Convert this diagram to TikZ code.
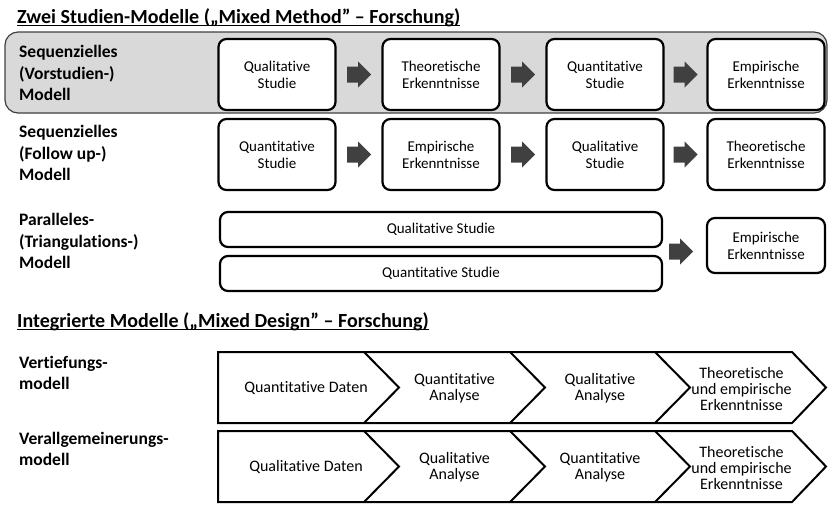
\documentclass[tikz,border=0pt]{standalone}
\usepackage{fontspec}
\setmainfont{Carlito}[Ligatures=NoCommon]
\usetikzlibrary{calc}
\definecolor{panelgray}{HTML}{D9D9D9}
\definecolor{arrowgray}{HTML}{404040}
\begin{document}
\begin{tikzpicture}[x=1pt,y=-1pt,
  box/.style={draw=black,line width=2.2pt,rounded corners=8pt,fill=white,
    minimum width=117pt,minimum height=71pt,align=center,inner sep=0pt,
    font=\fontsize{15}{17}\selectfont},
  widebox/.style={box,minimum width=442pt,minimum height=35pt},
  endbox/.style={box,minimum width=118pt,minimum height=55pt},
  rowlabel/.style={anchor=west,align=left,inner sep=0pt,
    font=\bfseries\fontsize{17.5}{21.5}\selectfont},
  title/.style={anchor=base west,inner sep=0pt,font=\bfseries\fontsize{20}{22}\selectfont},
  chevtext/.style={align=center,inner sep=0pt,font=\fontsize{16}{16}\selectfont},
  chevline/.style={draw=black,line width=2pt,line join=miter},
  barrow/.pic={\fill[arrowgray] (-12,-8) -- (-1,-8) -- (-1,-13) -- (12,0) -- (-1,13) -- (-1,8) -- (-12,8) -- cycle;}
]
\useasboundingbox (0,0) rectangle (829,504);

% ---- Title 1
\node[title] (t1) at (17,23) {Zwei Studien-Modelle („Mixed Method” – Forschung)};
\draw[line width=1.3pt] ([yshift=-2.5pt]t1.base west) -- ([yshift=-2.5pt]t1.base east);

% ---- gray panel
\draw[draw=arrowgray,line width=1.2pt,fill=panelgray,rounded corners=13pt] (5,32) rectangle (827,113);

% ---- row 1
\node[rowlabel] (l1) at (19,73) {Sequenzielles\\(Vorstudien-)\\Modell};
\node[box] (a1) at (277,74.5) {Qualitative\\Studie};
\node[box] (a2) at (441,74.5) {Theoretische\\Erkenntnisse};
\node[box] (a3) at (605,74.5) {Quantitative\\Studie};
\node[box] (a4) at (766,74.5) {Empirische\\Erkenntnisse};
\path ($(a1.east)!0.5!(a2.west)$) pic {barrow};
\path ($(a2.east)!0.5!(a3.west)$) pic {barrow};
\path ($(a3.east)!0.5!(a4.west)$) pic {barrow};

% ---- row 2
\node[rowlabel] (l2) at (19,153) {Sequenzielles\\(Follow up-)\\Modell};
\node[box] (b1) at (277,154.5) {Quantitative\\Studie};
\node[box] (b2) at (441,154.5) {Empirische\\Erkenntnisse};
\node[box] (b3) at (605,154.5) {Qualitative\\Studie};
\node[box] (b4) at (766,154.5) {Theoretische\\Erkenntnisse};
\path ($(b1.east)!0.5!(b2.west)$) pic {barrow};
\path ($(b2.east)!0.5!(b3.west)$) pic {barrow};
\path ($(b3.east)!0.5!(b4.west)$) pic {barrow};

% ---- row 3
\node[rowlabel] (l3) at (19,241) {Paralleles-\\(Triangulations-)\\Modell};
\node[widebox] (c1) at (441,229.5) {Qualitative Studie};
\node[widebox] (c2) at (441,273.5) {Quantitative Studie};
\node[endbox] (c3) at (766,245.5) {Empirische\\Erkenntnisse};
\coordinate (cm) at ($(c1.south east)!0.5!(c2.north east)$);
\path ($(cm)!0.42!(c3.west |- cm)$) pic {barrow};

% ---- Title 2
\node[title] (t2) at (17,327) {Integrierte Modelle („Mixed Design” – Forschung)};
\draw[line width=1.3pt] ([yshift=-2.5pt]t2.base west) -- ([yshift=-2.5pt]t2.base east);

% ---- chevron row 1
\node[rowlabel] (l4) at (19,373) {Vertiefungs-\\modell};
\draw[chevline] (218,352) -- (792,352) -- (826,387.5) -- (792,423) -- (218,423) -- cycle;
\draw[chevline] (364,352) -- (399,387.5) -- (364,423);
\draw[chevline] (510,352) -- (545,387.5) -- (510,423);
\draw[chevline] (655,352) -- (690,387.5) -- (655,423);
\node[chevtext] (d1) at (306,388) {Quantitative Daten};
\node[chevtext] (d2) at (454.5,388) {Quantitative\\Analyse};
\node[chevtext] (d3) at (600,388) {Qualitative\\Analyse};
\node[chevtext] (d4) at (741.5,389) {Theoretische\\und empirische\\Erkenntnisse};

% ---- chevron row 2
\node[rowlabel] (l5) at (19,449) {Verallgemeinerungs-\\modell};
\draw[chevline] (218,431) -- (792,431) -- (826,466.5) -- (792,502) -- (218,502) -- cycle;
\draw[chevline] (364,431) -- (399,466.5) -- (364,502);
\draw[chevline] (510,431) -- (545,466.5) -- (510,502);
\draw[chevline] (655,431) -- (690,466.5) -- (655,502);
\node[chevtext] (e1) at (306,467) {Qualitative Daten};
\node[chevtext] (e2) at (454.5,467) {Qualitative\\Analyse};
\node[chevtext] (e3) at (600,467) {Quantitative\\Analyse};
\node[chevtext] (e4) at (741.5,468) {Theoretische\\und empirische\\Erkenntnisse};
\end{tikzpicture}
\end{document}
